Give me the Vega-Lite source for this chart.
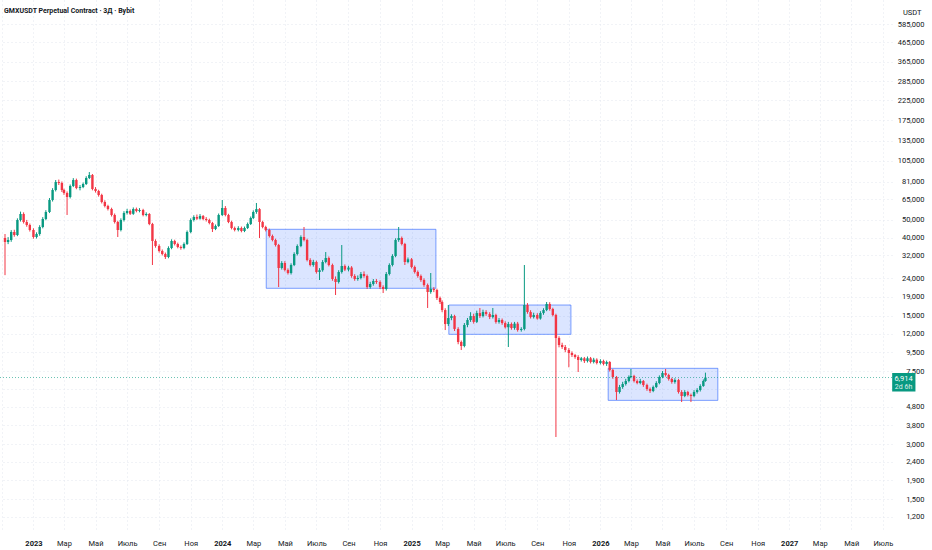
{
  "$schema": "https://vega.github.io/schema/vega-lite/v6.json",
  "width": 892,
  "height": 532,
  "autosize": "none",
  "padding": {"left": 0, "top": 0, "right": 40, "bottom": 18},
  "background": "#ffffff",
  "title": {
    "text": "GMXUSDT Perpetual Contract · 3Д · Bybit",
    "anchor": "start",
    "frame": "group",
    "orient": "top",
    "offset": -13,
    "dy": 7,
    "baseline": "alphabetic",
    "dx": 4,
    "font": "Roboto",
    "fontSize": 7,
    "fontWeight": "bold",
    "color": "#131722"
  },
  "datasets": {
    "candles": [
      {"d": "2022-11-07", "o": 39900, "h": 41900, "l": 25000, "c": 37900},
      {"d": "2022-11-13", "o": 37900, "h": 40300, "l": 36900, "c": 38860},
      {"d": "2022-11-19", "o": 38860, "h": 44000, "l": 38000, "c": 42970},
      {"d": "2022-11-25", "o": 42970, "h": 44200, "l": 40500, "c": 41380},
      {"d": "2022-12-01", "o": 41380, "h": 51000, "l": 40800, "c": 49950},
      {"d": "2022-12-07", "o": 49950, "h": 55500, "l": 49000, "c": 53860},
      {"d": "2022-12-13", "o": 53860, "h": 55000, "l": 47800, "c": 48710},
      {"d": "2022-12-19", "o": 48710, "h": 50000, "l": 45900, "c": 46910},
      {"d": "2022-12-25", "o": 46910, "h": 47800, "l": 43200, "c": 44060},
      {"d": "2023-01-01", "o": 44060, "h": 45000, "l": 39500, "c": 40350},
      {"d": "2023-01-07", "o": 40350, "h": 42800, "l": 39600, "c": 41910},
      {"d": "2023-01-13", "o": 41910, "h": 46800, "l": 41000, "c": 45750},
      {"d": "2023-01-19", "o": 45750, "h": 51800, "l": 45000, "c": 50600},
      {"d": "2023-01-25", "o": 50600, "h": 56500, "l": 49800, "c": 55230},
      {"d": "2023-02-01", "o": 55230, "h": 65800, "l": 54500, "c": 64220},
      {"d": "2023-02-07", "o": 64220, "h": 74500, "l": 63000, "c": 72800},
      {"d": "2023-02-13", "o": 72800, "h": 82500, "l": 71500, "c": 80470},
      {"d": "2023-02-19", "o": 80470, "h": 83000, "l": 77500, "c": 79470},
      {"d": "2023-02-25", "o": 79470, "h": 81000, "l": 71000, "c": 72800},
      {"d": "2023-03-01", "o": 72800, "h": 74000, "l": 68500, "c": 70110},
      {"d": "2023-03-07", "o": 70110, "h": 71500, "l": 53200, "c": 66670},
      {"d": "2023-03-13", "o": 66670, "h": 78000, "l": 65500, "c": 76560},
      {"d": "2023-03-19", "o": 76560, "h": 84500, "l": 75500, "c": 82520},
      {"d": "2023-03-25", "o": 82520, "h": 84000, "l": 73500, "c": 74660},
      {"d": "2023-04-01", "o": 74660, "h": 77500, "l": 72500, "c": 75600},
      {"d": "2023-04-07", "o": 75600, "h": 80000, "l": 74500, "c": 78490},
      {"d": "2023-04-13", "o": 78490, "h": 86500, "l": 77500, "c": 84630},
      {"d": "2023-04-19", "o": 84630, "h": 91200, "l": 83500, "c": 87870},
      {"d": "2023-04-25", "o": 87870, "h": 89000, "l": 72500, "c": 73730},
      {"d": "2023-05-01", "o": 73730, "h": 75500, "l": 70500, "c": 71900},
      {"d": "2023-05-07", "o": 71900, "h": 73000, "l": 67000, "c": 68370},
      {"d": "2023-05-13", "o": 68370, "h": 69500, "l": 61500, "c": 62630},
      {"d": "2023-05-19", "o": 62630, "h": 64000, "l": 58500, "c": 59560},
      {"d": "2023-05-25", "o": 59560, "h": 60500, "l": 56300, "c": 57360},
      {"d": "2023-06-01", "o": 57360, "h": 58300, "l": 52200, "c": 53200},
      {"d": "2023-06-07", "o": 53200, "h": 54200, "l": 47800, "c": 48710},
      {"d": "2023-06-13", "o": 48710, "h": 49500, "l": 40350, "c": 44060},
      {"d": "2023-06-19", "o": 44060, "h": 51000, "l": 43300, "c": 49950},
      {"d": "2023-06-25", "o": 49950, "h": 55800, "l": 49000, "c": 54540},
      {"d": "2023-07-01", "o": 54540, "h": 57500, "l": 53500, "c": 55930},
      {"d": "2023-07-07", "o": 55930, "h": 57000, "l": 53200, "c": 54000},
      {"d": "2023-07-13", "o": 54000, "h": 58500, "l": 53300, "c": 57360},
      {"d": "2023-07-19", "o": 57360, "h": 58400, "l": 55000, "c": 55930},
      {"d": "2023-07-25", "o": 55930, "h": 58000, "l": 55000, "c": 56630},
      {"d": "2023-08-01", "o": 56630, "h": 57500, "l": 52300, "c": 53200},
      {"d": "2023-08-07", "o": 53200, "h": 55000, "l": 52300, "c": 53860},
      {"d": "2023-08-13", "o": 53860, "h": 54500, "l": 46800, "c": 47510},
      {"d": "2023-08-19", "o": 47510, "h": 48200, "l": 28390, "c": 38380},
      {"d": "2023-08-25", "o": 38380, "h": 39200, "l": 35300, "c": 36040},
      {"d": "2023-09-01", "o": 36040, "h": 36800, "l": 33200, "c": 33850},
      {"d": "2023-09-07", "o": 33850, "h": 34500, "l": 32000, "c": 32590},
      {"d": "2023-09-13", "o": 32590, "h": 33200, "l": 30620, "c": 31390},
      {"d": "2023-09-19", "o": 31390, "h": 35900, "l": 30900, "c": 35140},
      {"d": "2023-09-25", "o": 35140, "h": 39200, "l": 34600, "c": 38380},
      {"d": "2023-10-01", "o": 38380, "h": 39000, "l": 36300, "c": 36960},
      {"d": "2023-10-07", "o": 36960, "h": 37600, "l": 35000, "c": 35590},
      {"d": "2023-10-13", "o": 35590, "h": 36300, "l": 34400, "c": 35140},
      {"d": "2023-10-19", "o": 35140, "h": 37700, "l": 34600, "c": 36960},
      {"d": "2023-10-25", "o": 36960, "h": 43800, "l": 36500, "c": 42970},
      {"d": "2023-11-01", "o": 42970, "h": 51000, "l": 42300, "c": 49950},
      {"d": "2023-11-07", "o": 49950, "h": 53000, "l": 49000, "c": 51880},
      {"d": "2023-11-13", "o": 51880, "h": 53500, "l": 50000, "c": 50800},
      {"d": "2023-11-19", "o": 50800, "h": 53800, "l": 50200, "c": 52500},
      {"d": "2023-11-25", "o": 52500, "h": 53200, "l": 49800, "c": 50600},
      {"d": "2023-12-01", "o": 50600, "h": 51800, "l": 49000, "c": 49950},
      {"d": "2023-12-07", "o": 49950, "h": 50800, "l": 47300, "c": 48110},
      {"d": "2023-12-13", "o": 48110, "h": 48800, "l": 42970, "c": 44620},
      {"d": "2023-12-19", "o": 44620, "h": 47200, "l": 44000, "c": 46330},
      {"d": "2023-12-25", "o": 46330, "h": 54200, "l": 45800, "c": 53200},
      {"d": "2024-01-01", "o": 53200, "h": 64220, "l": 52500, "c": 58080},
      {"d": "2024-01-07", "o": 58080, "h": 59500, "l": 52300, "c": 53200},
      {"d": "2024-01-13", "o": 53200, "h": 54000, "l": 48000, "c": 48710},
      {"d": "2024-01-19", "o": 48710, "h": 49500, "l": 44400, "c": 45180},
      {"d": "2024-01-25", "o": 45180, "h": 46000, "l": 43300, "c": 44060},
      {"d": "2024-02-01", "o": 44060, "h": 46200, "l": 43300, "c": 45180},
      {"d": "2024-02-07", "o": 45180, "h": 46000, "l": 42800, "c": 43510},
      {"d": "2024-02-13", "o": 43510, "h": 46000, "l": 42900, "c": 45180},
      {"d": "2024-02-19", "o": 45180, "h": 48400, "l": 44600, "c": 47510},
      {"d": "2024-02-25", "o": 47510, "h": 52200, "l": 46900, "c": 51240},
      {"d": "2024-03-01", "o": 51240, "h": 56400, "l": 50500, "c": 55230},
      {"d": "2024-03-07", "o": 55230, "h": 61850, "l": 54000, "c": 57300},
      {"d": "2024-03-13", "o": 57300, "h": 58000, "l": 39850, "c": 48710},
      {"d": "2024-03-19", "o": 48710, "h": 49500, "l": 45000, "c": 45750},
      {"d": "2024-03-25", "o": 45750, "h": 46500, "l": 43300, "c": 44060},
      {"d": "2024-04-01", "o": 44060, "h": 44800, "l": 40100, "c": 40870},
      {"d": "2024-04-07", "o": 40870, "h": 41600, "l": 38200, "c": 38860},
      {"d": "2024-04-13", "o": 38860, "h": 39500, "l": 35800, "c": 36490},
      {"d": "2024-04-19", "o": 36490, "h": 37000, "l": 21530, "c": 27340},
      {"d": "2024-04-25", "o": 27340, "h": 29800, "l": 26800, "c": 29110},
      {"d": "2024-05-01", "o": 29110, "h": 29800, "l": 26200, "c": 26660},
      {"d": "2024-05-07", "o": 26660, "h": 27200, "l": 25200, "c": 25680},
      {"d": "2024-05-13", "o": 25680, "h": 29000, "l": 25200, "c": 28390},
      {"d": "2024-05-19", "o": 28390, "h": 33300, "l": 28000, "c": 32590},
      {"d": "2024-05-25", "o": 32590, "h": 36800, "l": 32000, "c": 36040},
      {"d": "2024-06-01", "o": 36040, "h": 41200, "l": 35500, "c": 40350},
      {"d": "2024-06-07", "o": 40350, "h": 45750, "l": 38200, "c": 38860},
      {"d": "2024-06-13", "o": 38860, "h": 39500, "l": 29700, "c": 30230},
      {"d": "2024-06-19", "o": 30230, "h": 30900, "l": 27900, "c": 28390},
      {"d": "2024-06-25", "o": 28390, "h": 30300, "l": 27800, "c": 29500},
      {"d": "2024-07-01", "o": 29500, "h": 30000, "l": 25500, "c": 26000},
      {"d": "2024-07-07", "o": 26000, "h": 27300, "l": 23520, "c": 26600},
      {"d": "2024-07-13", "o": 26600, "h": 30200, "l": 26100, "c": 29480},
      {"d": "2024-07-19", "o": 29480, "h": 33420, "l": 29000, "c": 31000},
      {"d": "2024-07-25", "o": 31000, "h": 31600, "l": 27900, "c": 28390},
      {"d": "2024-08-01", "o": 28390, "h": 28900, "l": 23300, "c": 23820},
      {"d": "2024-08-07", "o": 23820, "h": 24600, "l": 19480, "c": 22940},
      {"d": "2024-08-13", "o": 22940, "h": 26600, "l": 22500, "c": 26000},
      {"d": "2024-08-19", "o": 26000, "h": 36490, "l": 25500, "c": 28040},
      {"d": "2024-08-25", "o": 28040, "h": 28600, "l": 26300, "c": 26800},
      {"d": "2024-09-01", "o": 26800, "h": 28100, "l": 26200, "c": 27500},
      {"d": "2024-09-07", "o": 27500, "h": 28000, "l": 24200, "c": 24730},
      {"d": "2024-09-13", "o": 24730, "h": 25300, "l": 23300, "c": 23820},
      {"d": "2024-09-19", "o": 23820, "h": 24900, "l": 23300, "c": 24120},
      {"d": "2024-09-25", "o": 24120, "h": 26000, "l": 23700, "c": 25360},
      {"d": "2024-10-01", "o": 25360, "h": 26200, "l": 24200, "c": 24730},
      {"d": "2024-10-07", "o": 24730, "h": 25200, "l": 21000, "c": 21530},
      {"d": "2024-10-13", "o": 21530, "h": 23000, "l": 21100, "c": 22370},
      {"d": "2024-10-19", "o": 22370, "h": 23800, "l": 21900, "c": 23230},
      {"d": "2024-10-25", "o": 23230, "h": 23800, "l": 22400, "c": 22940},
      {"d": "2024-11-01", "o": 22940, "h": 23400, "l": 21000, "c": 21530},
      {"d": "2024-11-07", "o": 21530, "h": 22000, "l": 19970, "c": 21000},
      {"d": "2024-11-13", "o": 21000, "h": 26000, "l": 20600, "c": 25360},
      {"d": "2024-11-19", "o": 25360, "h": 29000, "l": 24900, "c": 28390},
      {"d": "2024-11-25", "o": 28390, "h": 32500, "l": 27900, "c": 31790},
      {"d": "2024-12-01", "o": 31790, "h": 39700, "l": 31300, "c": 38860},
      {"d": "2024-12-07", "o": 38860, "h": 45750, "l": 38000, "c": 39850},
      {"d": "2024-12-13", "o": 39850, "h": 40600, "l": 36300, "c": 36960},
      {"d": "2024-12-19", "o": 36960, "h": 37500, "l": 28390, "c": 29480},
      {"d": "2024-12-25", "o": 29480, "h": 31200, "l": 29000, "c": 30500},
      {"d": "2025-01-01", "o": 30500, "h": 31000, "l": 27200, "c": 27690},
      {"d": "2025-01-07", "o": 27690, "h": 28200, "l": 25500, "c": 26000},
      {"d": "2025-01-13", "o": 26000, "h": 26500, "l": 24200, "c": 24730},
      {"d": "2025-01-19", "o": 24730, "h": 25200, "l": 23000, "c": 23520},
      {"d": "2025-01-25", "o": 23520, "h": 24000, "l": 21600, "c": 22080},
      {"d": "2025-02-01", "o": 22080, "h": 22500, "l": 16550, "c": 20230},
      {"d": "2025-02-07", "o": 20230, "h": 25680, "l": 19800, "c": 21000},
      {"d": "2025-02-13", "o": 21000, "h": 21500, "l": 20200, "c": 20740},
      {"d": "2025-02-19", "o": 20740, "h": 21100, "l": 18300, "c": 18760},
      {"d": "2025-02-25", "o": 18760, "h": 19100, "l": 17400, "c": 17840},
      {"d": "2025-03-01", "o": 17840, "h": 18200, "l": 15700, "c": 16130},
      {"d": "2025-03-07", "o": 16130, "h": 16500, "l": 12550, "c": 13530},
      {"d": "2025-03-13", "o": 13530, "h": 17180, "l": 13200, "c": 14590},
      {"d": "2025-03-19", "o": 14590, "h": 15300, "l": 14200, "c": 14960},
      {"d": "2025-03-25", "o": 14960, "h": 15200, "l": 12400, "c": 12720},
      {"d": "2025-04-01", "o": 12720, "h": 13000, "l": 10500, "c": 10800},
      {"d": "2025-04-07", "o": 10800, "h": 11000, "l": 9765, "c": 10270},
      {"d": "2025-04-13", "o": 10270, "h": 13700, "l": 10100, "c": 13370},
      {"d": "2025-04-19", "o": 13370, "h": 14600, "l": 13000, "c": 14230},
      {"d": "2025-04-25", "o": 14230, "h": 15700, "l": 13900, "c": 14960},
      {"d": "2025-05-01", "o": 14960, "h": 15400, "l": 13600, "c": 13900},
      {"d": "2025-05-07", "o": 13900, "h": 16000, "l": 13700, "c": 15530},
      {"d": "2025-05-13", "o": 15530, "h": 16550, "l": 14600, "c": 14960},
      {"d": "2025-05-19", "o": 14960, "h": 16200, "l": 14700, "c": 15730},
      {"d": "2025-05-25", "o": 15730, "h": 16100, "l": 15000, "c": 15340},
      {"d": "2025-06-01", "o": 15340, "h": 15700, "l": 14400, "c": 14770},
      {"d": "2025-06-07", "o": 14770, "h": 16550, "l": 14500, "c": 15150},
      {"d": "2025-06-13", "o": 15150, "h": 15400, "l": 13600, "c": 13880},
      {"d": "2025-06-19", "o": 13880, "h": 14600, "l": 13600, "c": 14230},
      {"d": "2025-06-25", "o": 14230, "h": 14500, "l": 13400, "c": 13700},
      {"d": "2025-07-01", "o": 13700, "h": 14000, "l": 12800, "c": 13000},
      {"d": "2025-07-07", "o": 13000, "h": 13900, "l": 10140, "c": 13530},
      {"d": "2025-07-13", "o": 13530, "h": 13800, "l": 12600, "c": 12880},
      {"d": "2025-07-19", "o": 12880, "h": 13900, "l": 12600, "c": 13600},
      {"d": "2025-07-25", "o": 13600, "h": 13900, "l": 12300, "c": 12550},
      {"d": "2025-08-01", "o": 12550, "h": 13000, "l": 12300, "c": 12720},
      {"d": "2025-08-07", "o": 12720, "h": 28390, "l": 12500, "c": 17180},
      {"d": "2025-08-13", "o": 17180, "h": 17600, "l": 15400, "c": 15730},
      {"d": "2025-08-19", "o": 15730, "h": 16100, "l": 14500, "c": 14770},
      {"d": "2025-08-25", "o": 14770, "h": 15600, "l": 14500, "c": 15150},
      {"d": "2025-09-01", "o": 15150, "h": 15500, "l": 14300, "c": 14500},
      {"d": "2025-09-07", "o": 14500, "h": 15900, "l": 14300, "c": 15530},
      {"d": "2025-09-13", "o": 15530, "h": 16500, "l": 15200, "c": 16130},
      {"d": "2025-09-19", "o": 16130, "h": 17840, "l": 15900, "c": 17400},
      {"d": "2025-09-25", "o": 17400, "h": 17800, "l": 16000, "c": 16340},
      {"d": "2025-10-01", "o": 16340, "h": 16600, "l": 14900, "c": 15150},
      {"d": "2025-10-07", "o": 15150, "h": 15400, "l": 3276, "c": 11350},
      {"d": "2025-10-13", "o": 11350, "h": 11600, "l": 10100, "c": 10400},
      {"d": "2025-10-19", "o": 10400, "h": 10700, "l": 9900, "c": 10140},
      {"d": "2025-10-25", "o": 10140, "h": 10400, "l": 9500, "c": 9765},
      {"d": "2025-11-01", "o": 9765, "h": 10000, "l": 7860, "c": 9405},
      {"d": "2025-11-07", "o": 9405, "h": 9600, "l": 8950, "c": 9170},
      {"d": "2025-11-13", "o": 9170, "h": 9300, "l": 8750, "c": 8943},
      {"d": "2025-11-19", "o": 8943, "h": 9150, "l": 7409, "c": 8613},
      {"d": "2025-11-25", "o": 8613, "h": 8950, "l": 8450, "c": 8800},
      {"d": "2025-12-01", "o": 8800, "h": 8950, "l": 8300, "c": 8500},
      {"d": "2025-12-07", "o": 8500, "h": 9000, "l": 8350, "c": 8800},
      {"d": "2025-12-13", "o": 8800, "h": 8950, "l": 8250, "c": 8400},
      {"d": "2025-12-19", "o": 8400, "h": 8850, "l": 8250, "c": 8650},
      {"d": "2025-12-25", "o": 8650, "h": 8800, "l": 8150, "c": 8295},
      {"d": "2026-01-01", "o": 8295, "h": 8700, "l": 8150, "c": 8506},
      {"d": "2026-01-07", "o": 8506, "h": 8650, "l": 8050, "c": 8200},
      {"d": "2026-01-13", "o": 8200, "h": 8550, "l": 8000, "c": 8400},
      {"d": "2026-01-19", "o": 8400, "h": 8500, "l": 7450, "c": 7597},
      {"d": "2026-01-25", "o": 7597, "h": 7700, "l": 6800, "c": 6957},
      {"d": "2026-02-01", "o": 6957, "h": 7050, "l": 5212, "c": 5762},
      {"d": "2026-02-07", "o": 5762, "h": 6300, "l": 5650, "c": 6136},
      {"d": "2026-02-13", "o": 6136, "h": 6550, "l": 6000, "c": 6372},
      {"d": "2026-02-19", "o": 6372, "h": 6800, "l": 6250, "c": 6617},
      {"d": "2026-02-25", "o": 6617, "h": 7100, "l": 6500, "c": 6957},
      {"d": "2026-03-01", "o": 6957, "h": 7693, "l": 6850, "c": 7046},
      {"d": "2026-03-07", "o": 7046, "h": 7150, "l": 6500, "c": 6617},
      {"d": "2026-03-13", "o": 6617, "h": 6750, "l": 6350, "c": 6453},
      {"d": "2026-03-19", "o": 6453, "h": 6800, "l": 6350, "c": 6617},
      {"d": "2026-03-25", "o": 6617, "h": 6700, "l": 6150, "c": 6292},
      {"d": "2026-04-01", "o": 6292, "h": 6400, "l": 5850, "c": 5984},
      {"d": "2026-04-07", "o": 5984, "h": 6100, "l": 5700, "c": 5836},
      {"d": "2026-04-13", "o": 5836, "h": 6250, "l": 5750, "c": 6136},
      {"d": "2026-04-19", "o": 6136, "h": 6600, "l": 6050, "c": 6453},
      {"d": "2026-04-25", "o": 6453, "h": 7100, "l": 6350, "c": 6957},
      {"d": "2026-05-01", "o": 6957, "h": 7500, "l": 6850, "c": 7317},
      {"d": "2026-05-07", "o": 7317, "h": 7693, "l": 7000, "c": 7134},
      {"d": "2026-05-13", "o": 7134, "h": 7250, "l": 6650, "c": 6785},
      {"d": "2026-05-19", "o": 6785, "h": 6900, "l": 6400, "c": 6534},
      {"d": "2026-05-25", "o": 6534, "h": 6850, "l": 6400, "c": 6700},
      {"d": "2026-06-01", "o": 6700, "h": 6800, "l": 5650, "c": 5762},
      {"d": "2026-06-07", "o": 5762, "h": 5900, "l": 5083, "c": 5481},
      {"d": "2026-06-13", "o": 5481, "h": 5900, "l": 5400, "c": 5762},
      {"d": "2026-06-19", "o": 5762, "h": 5850, "l": 5450, "c": 5550},
      {"d": "2026-06-25", "o": 5550, "h": 5650, "l": 5083, "c": 5481},
      {"d": "2026-07-01", "o": 5481, "h": 5900, "l": 5400, "c": 5762},
      {"d": "2026-07-07", "o": 5762, "h": 6050, "l": 5650, "c": 5909},
      {"d": "2026-07-13", "o": 5909, "h": 6350, "l": 5800, "c": 6214},
      {"d": "2026-07-19", "o": 6214, "h": 6750, "l": 6150, "c": 6617},
      {"d": "2026-07-23", "o": 6617, "h": 7350, "l": 6550, "c": 6914}
    ],
    "boxes": [
      {"start": "2024-03-26", "end": "2025-02-17", "lo": 21190, "hi": 44450},
      {"start": "2025-03-14", "end": "2025-11-05", "lo": 11890, "hi": 17180},
      {"start": "2026-01-16", "end": "2026-08-16", "lo": 5190, "hi": 7760}
    ],
    "last": [
      {"price": 6914, "label": "6,914", "timer": "2d 6h"}
    ]
  },
  "layer": [
    {
      "data": {"name": "boxes"},
      "mark": {"type": "rect", "fill": "#2962ff", "fillOpacity": 0.17, "stroke": "#2962ff", "strokeOpacity": 0.6, "strokeWidth": 1},
      "encoding": {
        "x": {
          "field": "start",
          "type": "temporal",
          "scale": {
            "type": "utc",
            "domain": [
              {"year": 2022, "month": 11, "date": 7, "utc": true},
              {"year": 2027, "month": 7, "date": 9, "utc": true}
            ]
          },
          "axis": {
            "title": null,
            "orient": "bottom",
            "tickCount": {"interval": "month", "step": 2},
            "domain": false,
            "ticks": false,
            "tickSize": 0,
            "labelPadding": 7,
            "labelFont": "Roboto",
            "labelFontSize": 7.5,
            "labelColor": "#131722",
            "labelFontWeight": {"condition": {"test": "utcmonth(datum.value) == 0", "value": "bold"}, "value": "normal"},
            "labelExpr": "utcyear(datum.value) < 2023 ? '' : utcmonth(datum.value) == 0 ? utcFormat(datum.value, '%Y') : ['', 'Фев', 'Мар', 'Апр', 'Май', 'Июнь', 'Июль', 'Авг', 'Сен', 'Окт', 'Ноя', 'Дек'][utcmonth(datum.value)]",
            "labelOverlap": false,
            "labelFlush": false,
            "grid": true,
            "gridColor": "#e3e6ee",
            "gridDash": [1, 3],
            "zindex": 0
          }
        },
        "x2": {"field": "end"},
        "y": {
          "field": "lo",
          "type": "quantitative",
          "scale": {"type": "log", "domain": [994, 791000], "nice": false, "zero": false},
          "axis": {
            "title": "USDT",
            "titleAngle": 0,
            "titleX": 29,
            "titleY": 12,
            "titleAlign": "right",
            "titleBaseline": "middle",
            "titleFont": "Roboto",
            "titleFontSize": 7.5,
            "titleFontWeight": "normal",
            "titleColor": "#131722",
            "orient": "right",
            "values": [1200, 1500, 1900, 2400, 3000, 3800, 4800, 6000, 7500, 9500, 12000, 15000, 19000, 24000, 32000, 40000, 50000, 65000, 81000, 105000, 135000, 175000, 225000, 285000, 365000, 465000, 585000],
            "format": ",d",
            "labelExpr": "datum.value == 6000 ? '' : datum.label",
            "domain": false,
            "ticks": false,
            "tickSize": 0,
            "labelAlign": "right",
            "labelPadding": 32,
            "labelFont": "Roboto",
            "labelFontSize": 7.5,
            "labelColor": "#131722",
            "labelOverlap": false,
            "grid": true,
            "gridColor": "#e3e6ee",
            "gridDash": [1, 3],
            "zindex": 0
          }
        },
        "y2": {"field": "hi"}
      }
    },
    {
      "data": {"name": "candles"},
      "mark": {"type": "rule", "strokeWidth": 1},
      "encoding": {
        "x": {"field": "d", "type": "temporal"},
        "y": {"field": "l", "type": "quantitative"},
        "y2": {"field": "h"},
        "color": {
          "condition": {"test": "datum.c >= datum.o", "value": "#089981"},
          "value": "#f23645"
        }
      }
    },
    {
      "data": {"name": "candles"},
      "mark": {"type": "bar", "width": 2.4},
      "encoding": {
        "x": {"field": "d", "type": "temporal"},
        "y": {"field": "o", "type": "quantitative"},
        "y2": {"field": "c"},
        "color": {
          "condition": {"test": "datum.c >= datum.o", "value": "#089981"},
          "value": "#f23645"
        }
      }
    },
    {
      "data": {"name": "last"},
      "mark": {"type": "rule", "color": "#089981", "strokeDash": [1, 2], "strokeWidth": 1, "opacity": 0.6},
      "encoding": {
        "y": {"field": "price", "type": "quantitative"}
      }
    },
    {
      "data": {"name": "last"},
      "mark": {"type": "rect", "fill": "#089981", "clip": false},
      "encoding": {
        "x": {"datum": {"year": 2027, "month": 7, "date": 19, "utc": true}, "type": "temporal"},
        "x2": {"datum": {"year": 2027, "month": 9, "date": 2, "utc": true}},
        "y": {"datum": 7317, "type": "quantitative"},
        "y2": {"datum": 5800}
      }
    },
    {
      "data": {"name": "last"},
      "mark": {"type": "text", "color": "#ffffff", "font": "Roboto", "fontSize": 7.5, "baseline": "middle", "align": "center", "dy": 1.5, "clip": false},
      "encoding": {
        "x": {"datum": {"year": 2027, "month": 8, "date": 10, "utc": true}, "type": "temporal"},
        "y": {"field": "price", "type": "quantitative"},
        "text": {"field": "label"}
      }
    },
    {
      "data": {"name": "last"},
      "mark": {"type": "text", "color": "#ffffff", "font": "Roboto", "fontSize": 7, "baseline": "middle", "align": "center", "dy": 9.5, "clip": false, "opacity": 0.85},
      "encoding": {
        "x": {"datum": {"year": 2027, "month": 8, "date": 10, "utc": true}, "type": "temporal"},
        "y": {"field": "price", "type": "quantitative"},
        "text": {"field": "timer"}
      }
    }
  ],
  "config": {
    "view": {"stroke": null},
    "font": "Roboto"
  }
}
